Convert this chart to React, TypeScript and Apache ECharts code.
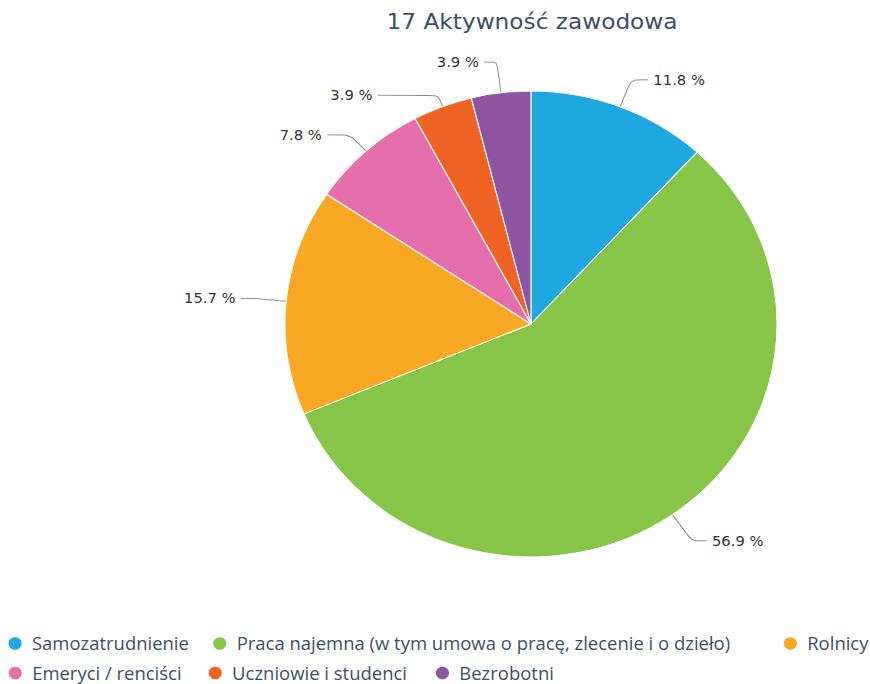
import React, { useEffect, useRef } from "react";
import * as echarts from "echarts";

const titleText = "17 Aktywność zawodowa";
const categories = [
  "Samozatrudnienie",
  "Praca najemna (w tym umowa o pracę, zlecenie i o dzieło)",
  "Rolnicy",
  "Emeryci / renciści",
  "Uczniowie i studenci",
  "Bezrobotni",
];
const percentValues = [11.8, 56.9, 15.7, 7.8, 3.9, 3.9];

// styling (not data)
const colors = ["#1fa8e0", "#86c548", "#f9a823", "#e56eac", "#ef6424", "#8e55a2"];
const lineLen = [29, 32, 30, 22, 12, 31];
const lineLen2 = [16, 14, 13, 22, 57, 12];
const legendPos = [
  { left: 8, top: 633.5 },
  { left: 201.9, top: 633.5 },
  { left: 742.3, top: 633.5 },
  { left: 8.2, top: 663 },
  { left: 197.6, top: 663 },
  { left: 412.8, top: 663 },
];

const BASE_W = 824;
const BASE_H = 684;
const SCALE_X = 870 / BASE_W;

export default function App() {
  const ref = useRef<HTMLDivElement>(null);
  useEffect(() => {
    if (!ref.current) return;
    const chart = echarts.init(ref.current, undefined, { renderer: "svg" });
    const textColor = "#3d4f65";
    chart.setOption({
      animation: false,
      backgroundColor: "#ffffff",
      color: colors,
      title: {
        text: titleText,
        left: 503.9,
        top: 10.5,
        padding: 0,
        textAlign: "center",
        textStyle: {
          fontFamily: "DejaVu Sans",
          fontSize: 22,
          fontWeight: "normal",
          color: textColor,
        },
      },
      legend: categories.map((name, i) => ({
        data: [name],
        left: legendPos[i].left,
        top: legendPos[i].top,
        padding: 0,
        icon: "circle",
        itemWidth: 14,
        itemHeight: 12.5,
        selectedMode: false,
        itemStyle: { borderWidth: 0 },
        textStyle: {
          fontFamily: "Open Sans",
          fontSize: 17.5,
          lineHeight: 20,
          color: textColor,
          padding: [0, 0, 0, 4],
        },
      })),
      series: [
        {
          type: "pie",
          center: [502.9, 324],
          radius: 233,
          startAngle: 90,
          clockwise: true,
          avoidLabelOverlap: false,
          emphasis: { disabled: true },
          itemStyle: { borderColor: "#ffffff", borderWidth: 1 },
          label: {
            show: true,
            fontFamily: "DejaVu Sans",
            fontSize: 14,
            color: "#333333",
            distanceToLabelLine: 5,
            formatter: (p: any) => `${Number(p.value).toFixed(1)} %`,
          },
          labelLine: {
            show: true,
            smooth: 0.2,
            lineStyle: { color: "#8f8f8f", width: 1 },
          },
          data: categories.map((name, i) => ({
            name,
            value: percentValues[i],
            labelLine: { length: lineLen[i], length2: lineLen2[i] },
          })),
        },
      ],
    });
    return () => chart.dispose();
  }, []);
  return (
    <div
      style={{
        position: "absolute",
        left: 0,
        top: 0,
        width: 870,
        height: 684,
        overflow: "hidden",
        background: "#fff",
      }}
    >
      <div
        ref={ref}
        style={{
          width: BASE_W,
          height: BASE_H,
          transform: `scaleX(${SCALE_X})`,
          transformOrigin: "0 0",
        }}
      />
    </div>
  );
}
